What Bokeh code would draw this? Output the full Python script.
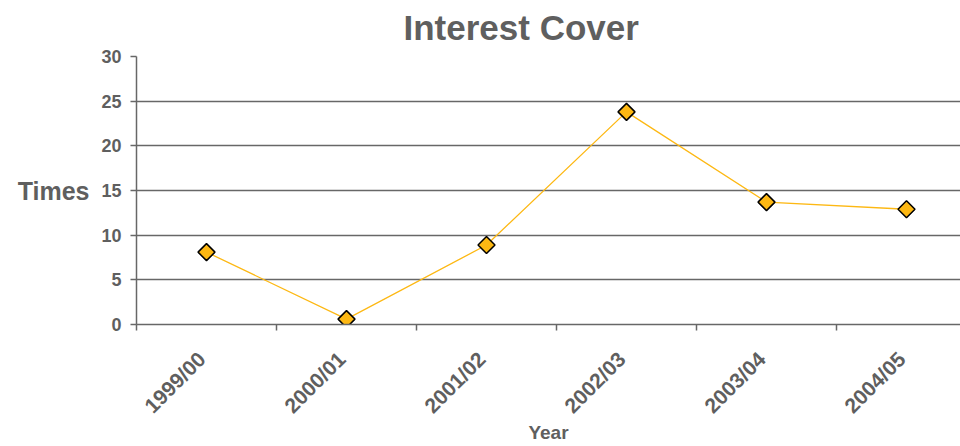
import math
from bokeh.plotting import figure
from bokeh.models import Range1d, FixedTicker
from bokeh.embed import file_html
from bokeh.resources import INLINE

# Interest cover by financial year
years = ["1999/00", "2000/01", "2001/02", "2002/03", "2003/04", "2004/05"]
cover = [8.1, 0.6, 8.9, 23.8, 13.7, 12.9]
y_ticks = [0, 5, 10, 15, 20, 25, 30]

FONT = "Liberation Sans"
TEXT = "#5f5f5f"
GRID = "#676767"
LINE = "#FDB813"

xs = [i + 0.5 for i in range(len(years))]
# rotated names sit with their end just left of the category centre
label_pos = [x - 0.035 for x in xs]

p = figure(width=960, height=446, output_backend="svg", toolbar_location=None,
           x_range=Range1d(0, 824 / 140), y_range=Range1d(0, 30),
           min_border_left=136, min_border_right=0, min_border_top=56,
           min_border_bottom=121, outline_line_color=None,
           background_fill_color="white", border_fill_color="white")

p.title.text = "Interest Cover"
p.title.text_font = FONT
p.title.text_font_size = "35px"
p.title.text_font_style = "bold"
p.title.text_color = TEXT
p.title.align = "left"
p.title.offset = 267
p.title.vertical_align = "top"
p.title.standoff = 15

p.line(xs, cover, line_color=LINE, line_width=1.3)
p.scatter(xs, cover, marker="square", size=12, angle=math.pi / 4,
          fill_color=LINE, line_color="black", line_width=1.5)

# x axis: category boundaries as tick marks, names near centres
xa = p.xaxis[0]
xa.ticker = FixedTicker(ticks=label_pos, minor_ticks=list(range(len(years))))
xa.major_label_overrides = {x: y for x, y in zip(label_pos, years)}
xa.major_tick_line_color = None
xa.major_tick_out = 0
xa.major_tick_in = 0
xa.minor_tick_out = 6
xa.minor_tick_in = 0
xa.minor_tick_line_color = GRID
xa.minor_tick_line_width = 1.5
xa.major_label_orientation = math.pi / 4
xa.major_label_standoff = 25
xa.axis_label = "Year"
xa.axis_label_standoff = -6

ya = p.yaxis[0]
ya.ticker = FixedTicker(ticks=y_ticks, minor_ticks=[])
ya.major_tick_out = 6
ya.major_tick_in = 0
ya.major_tick_line_color = GRID
ya.major_tick_line_width = 1.5
ya.major_label_standoff = 9
ya.axis_label = "Times"
ya.axis_label_orientation = "horizontal"
ya.axis_label_standoff = 9

for ax in (xa, ya):
    ax.axis_line_color = GRID
    ax.axis_line_width = 1.5
    ax.major_label_text_font = FONT
    ax.major_label_text_font_style = "bold"
    ax.major_label_text_font_size = "18px"
    ax.major_label_text_color = TEXT
    ax.axis_label_text_font = FONT
    ax.axis_label_text_font_style = "bold"
    ax.axis_label_text_color = TEXT

xa.major_label_text_font_size = "21px"
xa.axis_label_text_font_size = "19px"
ya.axis_label_text_font_size = "25px"

p.xgrid.grid_line_color = None
p.ygrid.ticker = FixedTicker(ticks=y_ticks)
p.ygrid.grid_line_color = GRID
p.ygrid.grid_line_width = 1.5

open("out.html", "w").write(file_html(p, INLINE))
